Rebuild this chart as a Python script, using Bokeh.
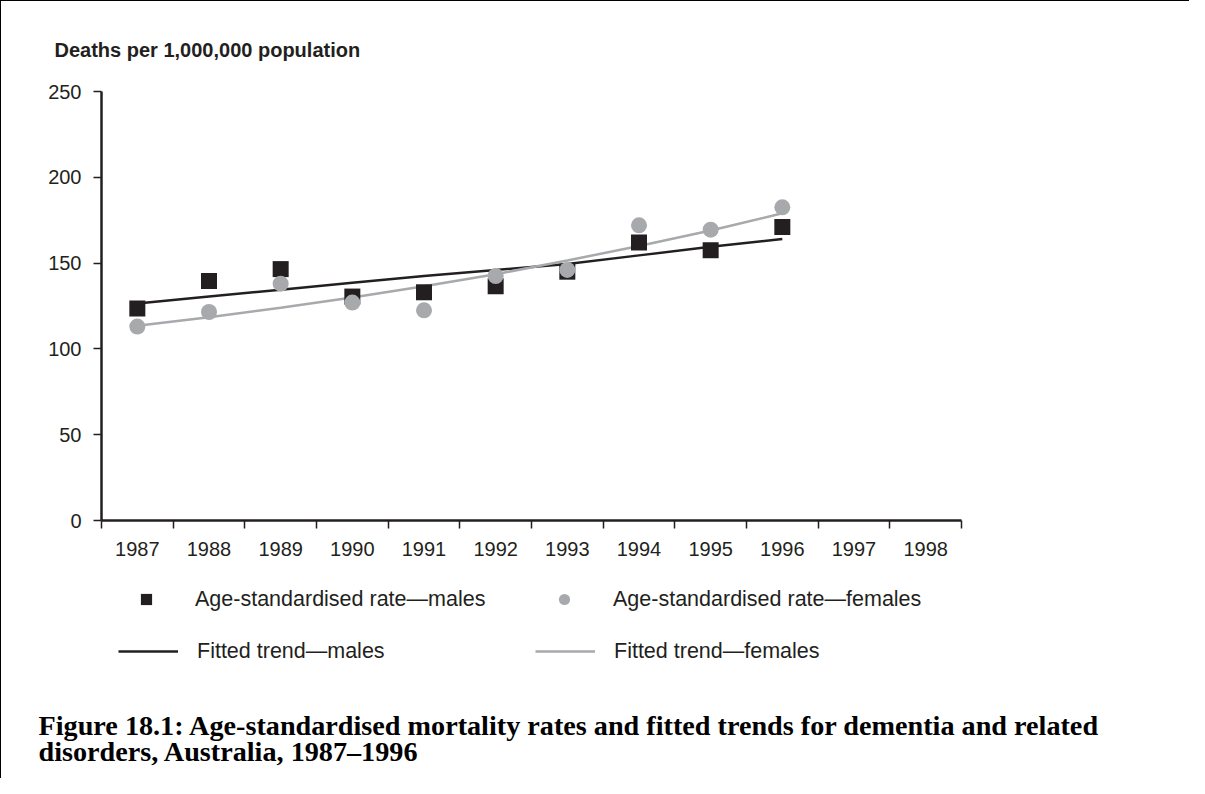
from bokeh.plotting import figure
from bokeh.models import (Range1d, FixedTicker, Legend, LegendItem, Label, Title)
from bokeh.embed import file_html
from bokeh.resources import INLINE

# ---------------- data ----------------
years = [1987, 1988, 1989, 1990, 1991, 1992, 1993, 1994, 1995, 1996]
axis_years = [1987, 1988, 1989, 1990, 1991, 1992, 1993, 1994, 1995, 1996, 1997, 1998]
males_rate = [123.5, 139.5, 146.5, 130.5, 133, 136.5, 145, 162, 157.5, 171]
females_rate = [113, 121.5, 138, 127, 122.5, 142.5, 146, 172, 169.5, 182.5]
males_trend = [126.5, 130.5, 134.5, 138.5, 142.5, 146, 149.5, 154.5, 159.5, 164]
females_trend = [113.5, 118.5, 124, 130, 136.5, 143.5, 151.5, 160, 169, 179]
y_ticks = [0, 50, 100, 150, 200, 250]

legend_labels = ["Age-standardised rate\u2014males", "Age-standardised rate\u2014females",
                 "Fitted trend\u2014males", "Fitted trend\u2014females"]
y_title = "Deaths per 1,000,000 population"
caption = ["Figure 18.1: Age-standardised mortality rates and fitted trends for dementia and related",
           "disorders, Australia, 1987\u20131996"]

DARK = "#231f20"
GREY = "#a7a9ac"
SANS = "Liberation Sans"

W = 1189
H1 = 580
H2 = 198
FL, FR, FT, FB = 100, 960, 90, 519  # frame edges in page px

# ---------------- main chart ----------------
p = figure(width=W, height=H1, output_backend="svg", toolbar_location=None,
           x_range=Range1d(1986.5, 1998.5), y_range=Range1d(0, 250),
           min_border_left=FL, min_border_right=W - FR,
           min_border_top=FT, min_border_bottom=H1 - FB)
p.outline_line_color = None
p.xgrid.visible = False
p.ygrid.visible = False
p.border_fill_color = "white"

xa = p.xaxis[0]
xa.ticker = FixedTicker(ticks=axis_years,
                        minor_ticks=[y - 0.5 for y in axis_years] + [axis_years[-1] + 0.5])
xa.major_tick_out = 0
xa.major_tick_in = 0
xa.minor_tick_out = 8
xa.minor_tick_in = 0
xa.minor_tick_line_color = DARK
xa.minor_tick_line_width = 1.5
xa.axis_line_color = DARK
xa.axis_line_width = 2.5
xa.major_label_standoff = 13
xa.major_label_text_font = SANS
xa.major_label_text_font_size = "20px"
xa.major_label_text_color = DARK

ya = p.yaxis[0]
ya.ticker = FixedTicker(ticks=y_ticks, minor_ticks=[])
ya.major_tick_out = 8
ya.major_tick_in = 0
ya.minor_tick_out = 0
ya.major_tick_line_color = DARK
ya.major_tick_line_width = 1.5
ya.axis_line_color = DARK
ya.axis_line_width = 2.5
ya.major_label_standoff = 12
ya.major_label_text_font = SANS
ya.major_label_text_font_size = "20px"
ya.major_label_text_color = DARK

p.add_layout(Title(text=y_title, align="left", offset=53 - FL, standoff=61,
                   text_font=SANS, text_font_style="bold", text_font_size="20px",
                   text_color=DARK), "above")

lm = p.line(years, males_trend, line_color=DARK, line_width=2.5)
lf = p.line(years, females_trend, line_color=GREY, line_width=2.5)
sm = p.scatter(years, males_rate, marker="square", size=16, fill_color=DARK, line_color=None)
sf = p.scatter(years, females_rate, marker="circle", size=16, fill_color=GREY, line_color=None)

# ---------------- legend + caption panel (pixel canvas) ----------------
p2 = figure(width=W, height=H2, output_backend="svg", toolbar_location=None,
            x_range=Range1d(0, W), y_range=Range1d(H2, 0),
            x_axis_type=None, y_axis_type=None, min_border=0)
p2.outline_line_color = None
p2.xgrid.visible = False
p2.ygrid.visible = False

# legend-key renderers carry the chart's series (they fall outside this canvas' range)
k_sm = p2.scatter(years, males_rate, marker="square", fill_color=DARK, line_color=None)
k_sf = p2.scatter(years, females_rate, marker="circle", fill_color=GREY, line_color=None)
k_lm = p2.line(years, males_trend, line_color=DARK, line_width=2.5)
k_lf = p2.line(years, females_trend, line_color=GREY, line_width=2.5)

GH = 28
def add_legend(label, rend, left, centre_from_top):
    vy = H2 - (centre_from_top + GH / 2)
    lg = Legend(items=[LegendItem(label=label, renderers=[rend])], location=(left, vy),
                orientation="vertical", padding=0, margin=0, spacing=0,
                border_line_color=None, background_fill_alpha=0,
                glyph_width=60, glyph_height=GH, label_standoff=19,
                label_text_font=SANS, label_text_font_size="21.5px",
                label_text_color=DARK)
    p2.add_layout(lg)

row1 = 599 - H1
row2 = 651 - H1
add_legend(legend_labels[0], k_sm, 115, row1)
add_legend(legend_labels[1], k_sf, 533, row1)
add_legend(legend_labels[2], k_lm, 117, row2)
add_legend(legend_labels[3], k_lf, 534, row2)

for txt, base in zip(caption, [725 - H1, 751 - H1]):
    p2.add_layout(Label(x=37, y=base, text=txt,
                        text_font="Liberation Serif", text_font_style="bold",
                        text_font_size="28.2px", text_color="black",
                        text_baseline="alphabetic", text_align="left"))

p.styles = {"border-top": "1.5px solid #000", "border-left": "1.5px solid #000"}
p2.styles = {"border-left": "1.5px solid #000"}

open("out.html", "w").write(file_html([p, p2], INLINE))
